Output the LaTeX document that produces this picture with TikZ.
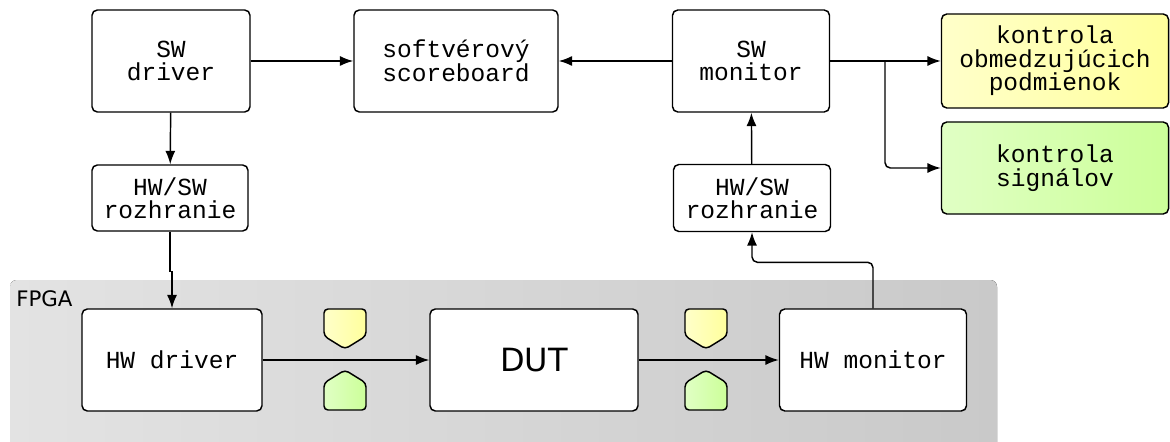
\documentclass[tikz,border=0pt]{standalone}
\usepackage{fontspec}
\setmonofont{Liberation Mono}
\setsansfont{DejaVu Sans}
\usetikzlibrary{arrows.meta}

% one unit of the drawing grid
\newcommand\pxu{0.75pt}

\definecolor{ylwA}{HTML}{FFFFCA}
\definecolor{ylwB}{HTML}{FFFF9C}
\definecolor{grnA}{HTML}{E0FFC4}
\definecolor{grnB}{HTML}{CCFF99}
\definecolor{fpgaA}{HTML}{E3E3E3}
\definecolor{fpgaB}{HTML}{C9C9C9}

\tikzset{
  box/.style = {draw, line width=1.1pt, rounded corners=4pt, inner sep=0pt,
    align=center, fill=white,
    font=\ttfamily\fontsize{18.4}{17.6}\selectfont},
  ylwbox/.style = {box, left color=ylwA, right color=ylwB},
  grnbox/.style = {box, left color=grnA, right color=grnB},
  conn/.style = {-{Latex[length=10pt,width=7.5pt]}, line width=1.1pt},
  tag/.style = {draw, line width=1.1pt, rounded corners=3pt}
}

\begin{document}
\begin{tikzpicture}[x=\pxu, y=-\pxu]
  \useasboundingbox (0,0) rectangle (1170,442);
  \clip (0,0) rectangle (1170,442);

  % FPGA area
  \fill[left color=fpgaA, right color=fpgaB, rounded corners=5pt]
    (10,280) rectangle (997,460);
  \node[anchor=north west, inner sep=0pt, font=\sffamily\fontsize{16}{16}\selectfont]
    (fpgalbl) at (16,290) {FPGA};

  % software side
  \node[box, minimum width=158*\pxu, minimum height=102*\pxu] (swdrv) at (171,61) {SW\\driver};
  \node[box, minimum width=204*\pxu, minimum height=102*\pxu] (score) at (456,61) {softvérový\\scoreboard};
  \node[box, minimum width=157*\pxu, minimum height=102*\pxu] (swmon) at (751,61) {SW\\monitor};
  \node[ylwbox, minimum width=227*\pxu, minimum height=94*\pxu] (kobm) at (1055,61) {kontrola\\obmedzujúcich\\podmienok};
  \node[grnbox, minimum width=227*\pxu, minimum height=92*\pxu] (ksig) at (1055,168) {kontrola\\signálov};

  \node[box, minimum width=156*\pxu, minimum height=66*\pxu] (ifl) at (170,198) {HW/SW\\rozhranie};
  \node[box, minimum width=157*\pxu, minimum height=67*\pxu] (ifr) at (752,198) {HW/SW\\rozhranie};

  % hardware side
  \node[box, minimum width=180*\pxu, minimum height=102*\pxu] (hwdrv) at (172,360) {HW driver};
  \node[box, minimum width=208*\pxu, minimum height=102*\pxu,
    font=\sffamily\fontsize{24}{24}\selectfont] (dut) at (534,360) {DUT};
  \node[box, minimum width=187*\pxu, minimum height=102*\pxu] (hwmon) at (873,360) {HW monitor};

  % connections
  \draw[conn] (swdrv) -- (score);
  \draw[conn] (swmon) -- (score);
  \draw[conn] (swdrv) -- (ifl);
  \draw[conn] (ifl.south) -- ++(0,40) -| (hwdrv.north);
  \draw[conn] (hwdrv) -- (dut);
  \draw[conn] (dut) -- (hwmon);
  \draw[conn, rounded corners=4pt] (hwmon.north) -- ++(0,-46) -| (ifr.south);
  \draw[conn] (ifr) -- (swmon);
  \draw[conn] (swmon) -- (kobm);
  \coordinate (split) at (885,61);
  \draw[conn, rounded corners=4pt] (split) |- (ksig.west);

  % markers on the DUT ports
  \foreach \cx in {345,706} {
    \draw[tag, left color=ylwA, right color=ylwB]
      (\cx-21,309) -- (\cx+21,309) -- (\cx+21,336) -- (\cx,349) -- (\cx-21,336) -- cycle;
    \draw[tag, left color=grnA, right color=grnB]
      (\cx-21,410) -- (\cx+21,410) -- (\cx+21,383) -- (\cx,370) -- (\cx-21,383) -- cycle;
  }
\end{tikzpicture}
\end{document}
